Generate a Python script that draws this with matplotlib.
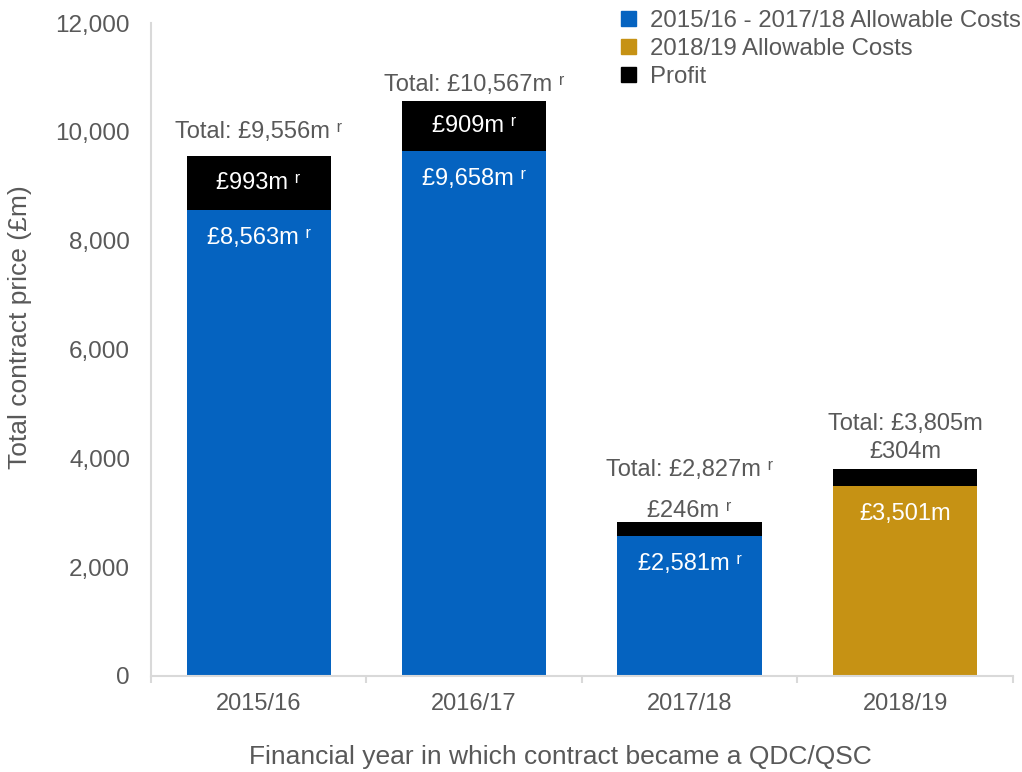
import matplotlib
matplotlib.use("Agg")
import matplotlib.pyplot as plt
from matplotlib.patches import Patch
from matplotlib.ticker import FuncFormatter, FixedLocator

plt.rcParams['font.family'] = ['Liberation Sans', 'DejaVu Sans']

years = ["2015/16", "2016/17", "2017/18", "2018/19"]
costs = [8563, 9658, 2581, 3501]
profit = [993, 909, 246, 304]
totals = [9556, 10567, 2827, 3805]
revised = [True, True, True, False]

BLUE = "#0563C0"
GOLD = "#C69214"
GREY = "#595959"
AXIS = "#D9D9D9"

cost_colors = [BLUE, BLUE, BLUE, GOLD]

fig = plt.figure(figsize=(10.22, 7.72), dpi=100)
ax = fig.add_axes([0.1477, 0.1244, 0.991 - 0.1477, 0.970 - 0.1244])

x = list(range(len(years)))
width = 0.67
ax.bar(x, costs, width=width, color=cost_colors, zorder=2)
ax.bar(x, profit, width=width, bottom=costs, color="black", zorder=2)

ax.set_xlim(-0.5, len(years) - 0.5)
ax.set_ylim(0, 12000)

ax.yaxis.set_major_locator(FixedLocator(range(0, 12001, 2000)))
ax.yaxis.set_major_formatter(FuncFormatter(lambda v, p: f"{int(v):,}"))
ax.tick_params(axis="y", length=0, labelsize=17.5, labelcolor=GREY, pad=15)

ax.set_xticks(x)
ax.set_xticklabels(years)
ax.set_xticks([i - 0.5 for i in range(len(years) + 1)], minor=True)
ax.tick_params(axis="x", which="major", length=0, labelsize=17, labelcolor=GREY, pad=12)
ax.tick_params(axis="x", which="minor", length=5, width=1.5, color=AXIS)

for side in ("top", "right"):
    ax.spines[side].set_visible(False)
for side in ("left", "bottom"):
    ax.spines[side].set_color(AXIS)
    ax.spines[side].set_linewidth(1.5)

ax.set_ylabel("Total contract price (£m)", fontsize=19, color=GREY, labelpad=17)
ax.yaxis.label.set_y(0.534)
ax.set_xlabel("Financial year in which contract became a QDC/QSC", fontsize=19,
              color=GREY, labelpad=22)
ax.xaxis.label.set_x(0.4745)


def money(v, r):
    return f"£{v:,}m" + (" ʳ" if r else "")


# label placement: (total offset px, profit inside?, profit offset px)
total_off = [24, 16, 52, 45]
profit_inside = [True, True, False, False]
profit_off = [0, 0, 11, 17]

for i in x:
    # allowable costs label near the top of the cost segment
    ax.annotate(money(costs[i], revised[i]), (i, costs[i]), xytext=(0, -28 * 0.72),
                textcoords="offset points", ha="center", va="center",
                fontsize=17, color="white", zorder=3)
    # profit label
    if profit_inside[i]:
        ax.text(i, costs[i] + profit[i] / 2, money(profit[i], revised[i]),
                ha="center", va="center", fontsize=17, color="white", zorder=3)
    else:
        ax.annotate(money(profit[i], revised[i]), (i, totals[i]),
                    xytext=(0, profit_off[i] * 0.72), textcoords="offset points",
                    ha="center", va="center", fontsize=17, color=GREY, zorder=3)
    # total label
    ax.annotate("Total: " + money(totals[i], revised[i]), (i, totals[i]),
                xytext=(0, total_off[i] * 0.72), textcoords="offset points",
                ha="center", va="center", fontsize=17, color=GREY, zorder=3)

handles = [Patch(color=BLUE), Patch(color=GOLD), Patch(color="black")]
labels = ["2015/16 - 2017/18 Allowable Costs", "2018/19 Allowable Costs", "Profit"]
leg = ax.legend(handles, labels, loc="upper right", bbox_to_anchor=(1.02, 1.035),
                frameon=False, fontsize=17.3, handlelength=0.62, handleheight=0.62,
                handletextpad=0.55, labelspacing=0.25, borderaxespad=0)
for t in leg.get_texts():
    t.set_color(GREY)

fig.savefig("out.png", dpi=100)
